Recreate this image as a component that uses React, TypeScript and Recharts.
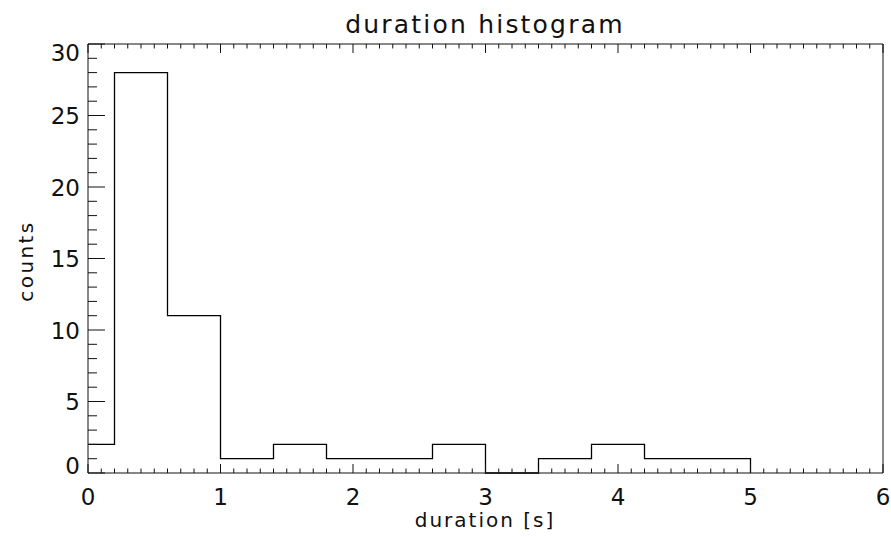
import React from "react";
import { LineChart, Line, XAxis, YAxis } from "recharts";

// histogram bins (edges in seconds) and counts per bin
const binEdges = [0, 0.2, 0.6, 1.0, 1.4, 1.8, 2.2, 2.6, 3.0, 3.4, 3.8, 4.2, 4.6, 5.0];
const counts = [2, 28, 11, 1, 2, 1, 1, 2, 0, 1, 2, 1, 1];

const xTickLabels = [0, 1, 2, 3, 4, 5, 6];
const yTickLabels = [0, 5, 10, 15, 20, 25, 30];

const W = 891;
const H = 537;
// axes take 1px each, so margins are 1px short of the plot box
const M = { top: 43, right: 7, bottom: 63, left: 87 };
const PLOT_TOP = 44;
const PLOT_BOTTOM = 473;

const FONT = "'DejaVu Sans', sans-serif";
const INK = "#111";

// the last edge closes the outline back down to zero
const data = binEdges.map((e, i) => ({ x: e, count: counts[i] ?? 0 }));

const xMinor: number[] = [];
for (let i = 0; i <= 60; i++) xMinor.push(+(i * 0.1).toFixed(1));
const yMinor: number[] = [];
for (let i = 0; i <= 30; i++) yMinor.push(i);

const isMajor = (v: number, list: number[]) => list.some((m) => Math.abs(m - v) < 1e-6);

function BottomTick({ x, y, payload }: any) {
  const major = isMajor(payload.value, xTickLabels);
  const len = major ? 9 : 4.5;
  return (
    <g>
      <line x1={x} y1={PLOT_BOTTOM} x2={x} y2={PLOT_BOTTOM - len} stroke={INK} strokeWidth={1} />
      {major && (
        <text x={x} y={PLOT_BOTTOM + 32} textAnchor="middle" fontSize={23} fontFamily={FONT} fill={INK}>
          {payload.value}
        </text>
      )}
    </g>
  );
}

function TopTick({ x, payload }: any) {
  const major = isMajor(payload.value, xTickLabels);
  const len = major ? 9 : 4.5;
  return <line x1={x} y1={PLOT_TOP} x2={x} y2={PLOT_TOP + len} stroke={INK} strokeWidth={1} />;
}

function LeftTick({ y, payload }: any) {
  const major = isMajor(payload.value, yTickLabels);
  const len = major ? 17 : 9;
  const x0 = 88;
  const cy = Math.min(Math.max(y, PLOT_TOP + 8), PLOT_BOTTOM - 8);
  return (
    <g>
      <line x1={x0} y1={y} x2={x0 + len} y2={y} stroke={INK} strokeWidth={1} />
      {major && (
        <text x={x0 - 8} y={cy + 8.5} textAnchor="end" fontSize={23} fontFamily={FONT} fill={INK}>
          {payload.value}
        </text>
      )}
    </g>
  );
}

function RightTick({ y, payload }: any) {
  const major = isMajor(payload.value, yTickLabels);
  const len = major ? 17 : 9;
  const x0 = 883;
  return <line x1={x0} y1={y} x2={x0 - len} y2={y} stroke={INK} strokeWidth={1} />;
}

const axisLine = { stroke: INK, strokeWidth: 1 };

export default function App() {
  return (
    <div style={{ position: "absolute", left: 0, top: 0, width: W, height: H, background: "#fff" }}>
      <LineChart width={W} height={H} data={data} margin={M}>
        <XAxis
          xAxisId="top"
          orientation="top"
          type="number"
          dataKey="x"
          domain={[0, 6]}
          ticks={xMinor}
          interval={0}
          height={1}
          tickSize={0}
          tickMargin={0}
          tickLine={false}
          tick={<TopTick />}
          axisLine={axisLine}
        />
        <XAxis
          xAxisId="bottom"
          orientation="bottom"
          type="number"
          dataKey="x"
          domain={[0, 6]}
          ticks={xMinor}
          interval={0}
          height={1}
          tickSize={0}
          tickMargin={0}
          tickLine={false}
          tick={<BottomTick />}
          axisLine={axisLine}
        />
        <YAxis
          yAxisId="left"
          orientation="left"
          type="number"
          domain={[0, 30]}
          ticks={yMinor}
          interval={0}
          width={1}
          tickSize={0}
          tickMargin={0}
          tickLine={false}
          tick={<LeftTick />}
          axisLine={axisLine}
        />
        <YAxis
          yAxisId="right"
          orientation="right"
          type="number"
          domain={[0, 30]}
          ticks={yMinor}
          interval={0}
          width={1}
          tickSize={0}
          tickMargin={0}
          tickLine={false}
          tick={<RightTick />}
          axisLine={axisLine}
        />
        <Line
          xAxisId="bottom"
          yAxisId="left"
          type="stepAfter"
          dataKey="count"
          stroke="#000"
          strokeWidth={1.3}
          dot={false}
          activeDot={false}
          isAnimationActive={false}
        />
      </LineChart>
      <svg width={W} height={H} style={{ position: "absolute", left: 0, top: 0, pointerEvents: "none" }}>
        <text x={485} y={33} textAnchor="middle" fontSize={25} letterSpacing={2.2} fontFamily={FONT} fill={INK}>
          duration histogram
        </text>
        <text x={485} y={527} textAnchor="middle" fontSize={20} letterSpacing={2} fontFamily={FONT} fill={INK}>
          duration [s]
        </text>
        <text
          x={0}
          y={0}
          transform="translate(33, 261) rotate(-90)"
          textAnchor="middle"
          fontSize={20}
          letterSpacing={2.4}
          fontFamily={FONT}
          fill={INK}
        >
          counts
        </text>
      </svg>
    </div>
  );
}
